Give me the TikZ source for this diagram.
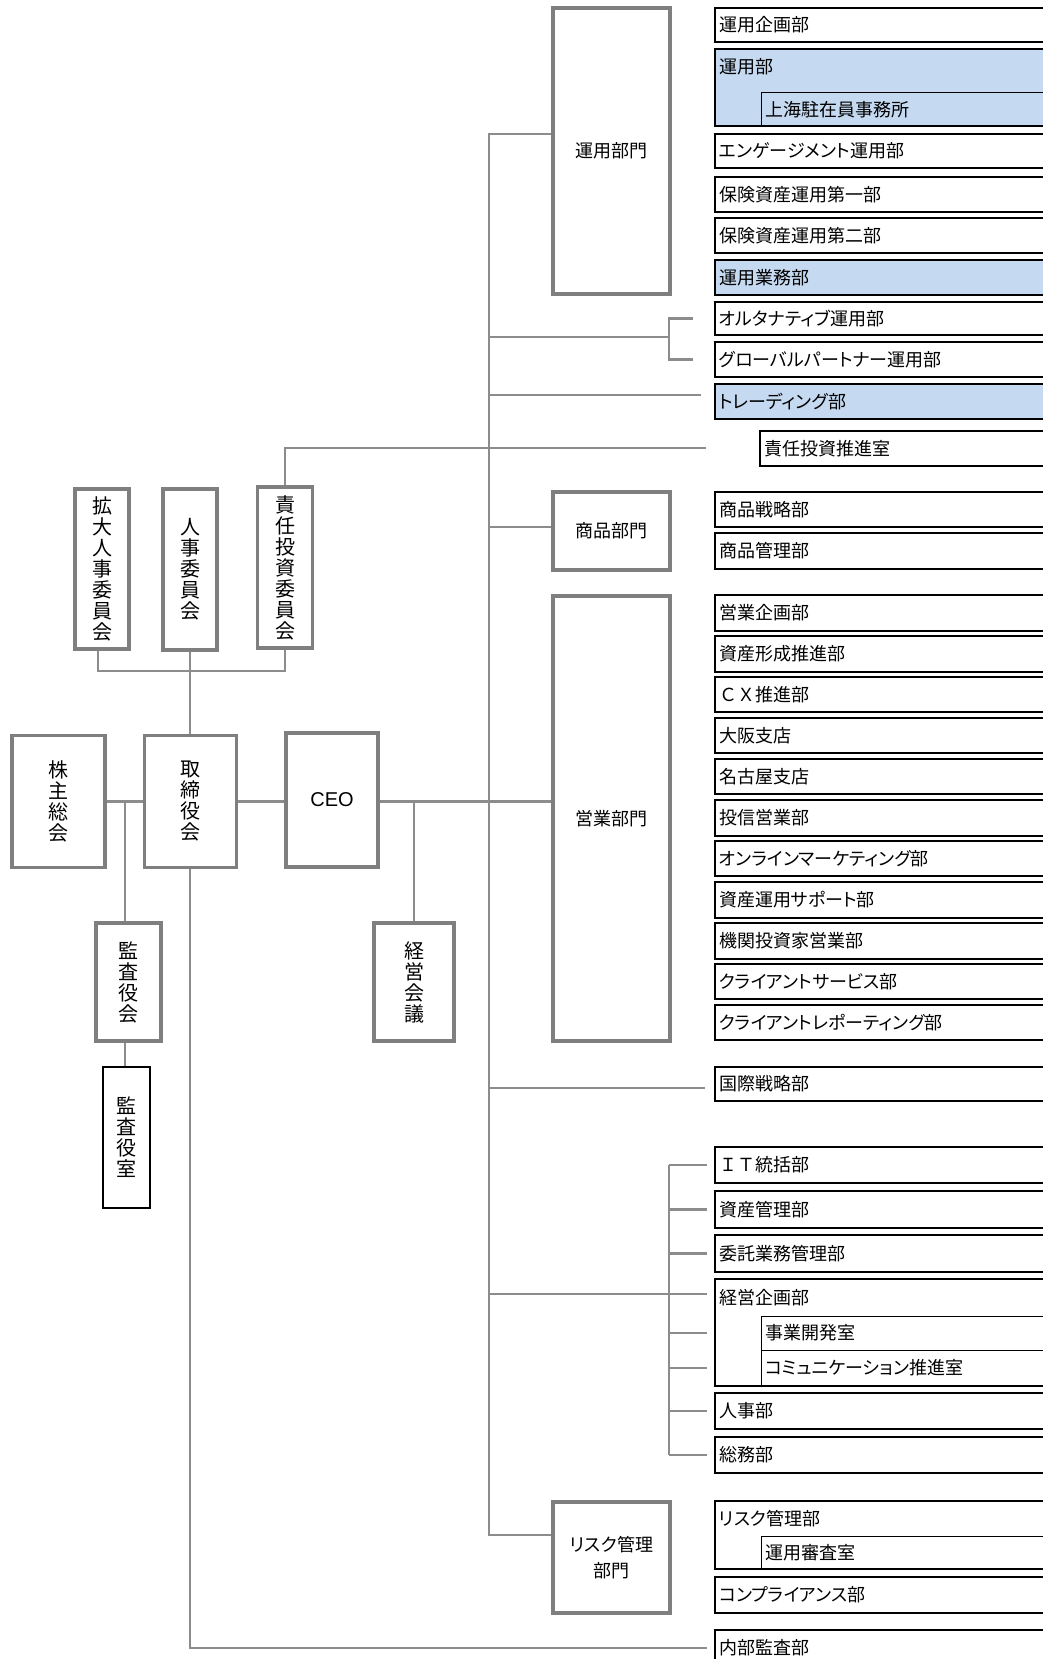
\documentclass[tikz,border=0pt]{standalone}
\usepackage{fontspec}
\newfontfamily\jp[RawFeature=+palt]{Noto Sans CJK JP}
\newfontfamily\jpn{Noto Sans CJK JP}
\newfontfamily\lat{Liberation Sans}
\definecolor{boxgray}{HTML}{7F7F7F}
\definecolor{linegray}{HTML}{8C8C8C}
\definecolor{paleblue}{HTML}{C5D9F1}
\newcommand{\rb}[5]{\node[rbox,#4,minimum height={#3-#2},text width=325,align=left] (#1) at (881.5,{(#2+#3)/2}) {#5};}
\newcommand{\ib}[4]{\node[ibox,minimum height={#3-#2},text width=279,align=left] (#1) at (904.5,{(#2+#3)/2}) {#4};}
\begin{document}
\begin{tikzpicture}[x=1pt,y=-1pt,
  conn/.style={draw=linegray,line width=2.2},
  gbox/.style={draw=boxgray,line width=3.5,fill=white,inner sep=0,align=center,
    font=\jp\fontsize{18}{26}\selectfont},
  vbox/.style={draw=boxgray,line width=3.5,fill=white,inner sep=0,align=center,
    font=\jpn\fontsize{20}{21}\selectfont},
  rbox/.style={draw=black,line width=2,fill=white,inner xsep=4,inner ysep=0,
    font=\jp\fontsize{18}{21}\selectfont},
  blue/.style={fill=paleblue},
  ibox/.style={draw=black,line width=1,inner xsep=4,inner ysep=0,
    font=\jp\fontsize{18}{21}\selectfont},
  lbl/.style={inner sep=0,anchor=west,font=\jp\fontsize{18}{21}\selectfont}]
\useasboundingbox (0,0) rectangle (1043,1659);
\clip (0,0) rectangle (1043,1659);
\fill[white] (0,0) rectangle (1043,1659);

% ---------- left side ----------
\node[vbox,minimum width=54,minimum height=160] (kakudai) at (102,569) {拡\\大\\人\\事\\委\\員\\会};
\node[vbox,minimum width=54,minimum height=161] (jinji) at (190,569.5) {人\\事\\委\\員\\会};
\node[vbox,minimum width=55,minimum height=161] (sekinin) at (285,567.5) {責\\任\\投\\資\\委\\員\\会};
\node[vbox,minimum width=93,minimum height=132] (kabunushi) at (58.5,801.5) {株\\主\\総\\会};
\node[vbox,minimum width=92,minimum height=132] (torishimari) at (190.5,801.5) {取\\締\\役\\会};
\node[draw=boxgray,line width=3.5,fill=white,inner sep=0,minimum width=92,minimum height=134,
  font=\lat\fontsize{20}{22}\selectfont] (ceo) at (332,800) {CEO};
\node[vbox,minimum width=65,minimum height=118] (kansakai) at (128.5,982) {監\\査\\役\\会};
\node[vbox,draw=black,line width=2.5,minimum width=47,minimum height=141] (kansashitsu) at (126.5,1137.5) {監\\査\\役\\室};
\node[vbox,minimum width=80,minimum height=118] (keiei) at (414,982) {経\\営\\会\\議};

% ---------- division boxes ----------
\node[gbox,minimum width=117,minimum height=286] (unyodiv) at (611.5,151) {運用部門};
\node[gbox,minimum width=117,minimum height=78] (shohindiv) at (611.5,531) {商品部門};
\node[gbox,minimum width=117,minimum height=445] (eigyodiv) at (611.5,818.5) {営業部門};
\node[gbox,minimum width=117,minimum height=111] (riskdiv) at (611.5,1557.5) {リスク管理\\部門};

% ---------- right boxes ----------
\rb{r1}{8}{42}{}{運用企画部}
\rb{r2}{49}{126}{blue}{}
\node[lbl] (r2l) at (719,67) {運用部};
\ib{r2i}{93}{126}{上海駐在員事務所}
\rb{r3}{134}{168}{}{エンゲージメント運用部}
\rb{r4}{177}{212}{}{保険資産運用第一部}
\rb{r5}{218}{253}{}{保険資産運用第二部}
\rb{r6}{260}{295}{blue}{運用業務部}
\rb{alt}{302}{335}{}{オルタナティブ運用部}
\rb{gp}{342}{377}{}{グローバルパートナー運用部}
\rb{trd}{384}{419}{blue}{トレーディング部}
\node[rbox,minimum height=35,text width=280,align=left] (rtsuishin) at (904,448.5) {責任投資推進室};
\rb{s1}{492}{527}{}{商品戦略部}
\rb{s2}{533}{569}{}{商品管理部}
\rb{e1}{595}{631}{}{営業企画部}
\rb{e2}{636}{672}{}{資産形成推進部}
\rb{e3}{677}{712}{}{{\jpn ＣＸ}推進部}
\rb{e4}{718}{753}{}{大阪支店}
\rb{e5}{759}{794}{}{名古屋支店}
\rb{e6}{800}{836}{}{投信営業部}
\rb{e7}{841}{876}{}{オンラインマーケティング部}
\rb{e8}{882}{918}{}{資産運用サポート部}
\rb{e9}{923}{959}{}{機関投資家営業部}
\rb{e10}{964}{999}{}{クライアントサービス部}
\rb{e11}{1005}{1040}{}{クライアントレポーティング部}
\rb{kokusai}{1067}{1101}{}{国際戦略部}
\rb{it}{1147}{1183}{}{{\jpn ＩＴ}統括部}
\rb{shisan}{1191}{1228}{}{資産管理部}
\rb{itaku}{1235}{1272}{}{委託業務管理部}
\rb{keikaku}{1279}{1386}{}{}
\node[lbl] (keikakul) at (719,1298) {経営企画部};
\ib{jigyo}{1316}{1350}{事業開発室}
\ib{comm}{1350}{1386}{コミュニケーション推進室}
\rb{jinjibu}{1393}{1429}{}{人事部}
\rb{somu}{1437}{1473}{}{総務部}
\rb{riskbu}{1501}{1569}{}{}
\node[lbl] (riskbul) at (719,1519) {リスク管理部};
\ib{shinsa}{1536}{1569}{運用審査室}
\rb{comp}{1577}{1613}{}{コンプライアンス部}
\rb{naibu}{1630}{1666}{}{内部監査部}

% ---------- coordinates ----------
\coordinate (j1) at (489,134);
\coordinate (j9) at (489,1535);
\coordinate (b1) at (669,337);
\coordinate (sx1) at (693,0);
\coordinate (tr) at (701,395);
\coordinate (rt) at (706,448);
\coordinate (csh) at (0,527);
\coordinate (ks) at (705,1088);
\coordinate (b2) at (669,1294);
\coordinate (sx3) at (707,0);
\coordinate (ia) at (707,1648);
\coordinate (cb) at (0,671);
\coordinate (ka) at (125,0);
\coordinate (kx) at (98,0);

% ---------- connectors ----------
\draw[conn] (j1 -| unyodiv.west) -- (j1) -- (j9) -- (j9 -| riskdiv.west);
\draw[conn] (b1 -| j1) -- (b1);
\draw[conn] (sx1 |- alt.west) -- (b1 |- alt.west) -- (b1 |- gp.west) -- (sx1 |- gp.west);
\draw[conn] (tr -| j1) -- (tr);
\draw[conn] (sekinin.north) |- (rt);
\draw[conn] (j1 |- csh) -- (shohindiv.west |- csh);
\draw[conn] (ceo.east |- torishimari.east) -- (torishimari.east -| eigyodiv.west);
\draw[conn] (torishimari.east) -- (torishimari.east -| ceo.west);
\draw[conn] (kabunushi.east) -- (torishimari.west);
\draw[conn] (keiei.north |- torishimari.east) -- (keiei.north);
\draw[conn] (ka |- kabunushi.east) -- (ka |- kansakai.north);
\draw[conn] (ka |- kansakai.south) -- (ka |- kansashitsu.north);
\draw[conn] (jinji.south) -- (jinji.south |- torishimari.north);
\draw[conn] (kx |- kakudai.south) -- (kx |- cb) -- (sekinin.south |- cb) -- (sekinin.south);
\draw[conn] (ks -| j1) -- (ks);
\draw[conn] (b2 -| j1) -- (b2);
\draw[conn] (b2 |- it.west) -- (b2 |- somu.west);
\foreach \n in {it,shisan,itaku,jigyo,comm,jinjibu,somu}
  \draw[conn] (b2 |- \n.west) -- (sx3 |- \n.west);
\draw[conn] (b2) -- (sx3 |- b2);
\draw[conn] (jinji.south |- torishimari.south) |- (ia);
\end{tikzpicture}
\end{document}
